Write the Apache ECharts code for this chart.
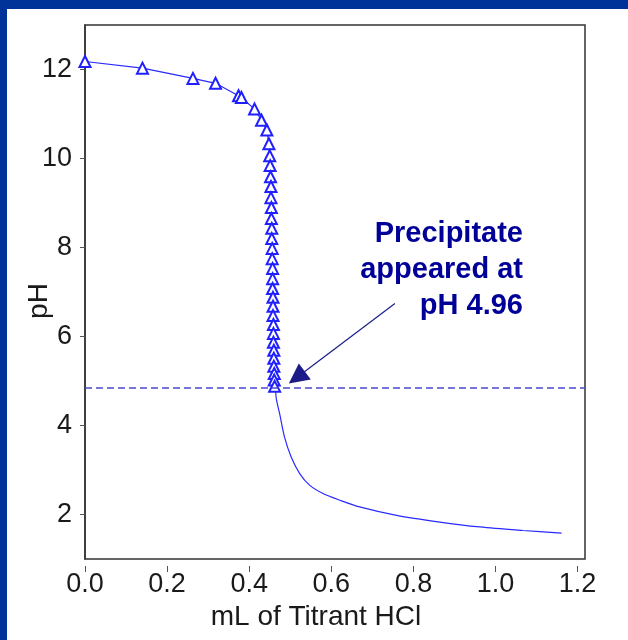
<!DOCTYPE html>
<html>
<head>
<meta charset="utf-8">
<script src="https://cdn.jsdelivr.net/npm/echarts@6/dist/echarts.min.js"></script>
<style>
  html, body { margin: 0; padding: 0; background: #fff; }
  #chart { width: 628px; height: 640px; }
</style>
</head>
<body>
<div id="chart"></div>
<script>
// titration points with triangle markers
var markX = [0, 0.14, 0.263, 0.318, 0.374, 0.381, 0.413, 0.430, 0.443,
  0.448, 0.450, 0.451, 0.452, 0.453, 0.453, 0.454, 0.454, 0.455, 0.455,
  0.456, 0.456, 0.457, 0.457, 0.457, 0.458, 0.458, 0.458, 0.459, 0.459,
  0.459, 0.460, 0.460, 0.460, 0.461, 0.461, 0.462];
var markPH = [12.18, 12.03, 11.80, 11.69, 11.41, 11.37, 11.11, 10.86, 10.64,
  10.33, 10.06, 9.84, 9.59, 9.37, 9.12, 8.90, 8.65, 8.43, 8.20,
  7.98, 7.75, 7.53, 7.30, 7.08, 6.88, 6.68, 6.47, 6.27, 6.07,
  5.87, 5.69, 5.51, 5.33, 5.17, 5.02, 4.88];

// curve after the precipitate (no markers)
var tailX = [0.462, 0.464, 0.466, 0.474, 0.486, 0.502, 0.523, 0.547, 0.580,
  0.621, 0.669, 0.759, 0.864, 0.962, 1.067, 1.161];
var tailPH = [4.88, 4.80, 4.60, 4.27, 3.74, 3.30, 2.92, 2.66, 2.47,
  2.32, 2.17, 1.98, 1.83, 1.72, 1.64, 1.58];

var xTicks = [0, 0.2, 0.4, 0.6, 0.8, 1.0, 1.2];
var yTicks = [2, 4, 6, 8, 10, 12];

var precipPH = 4.85;
var arrowFrom = [0.755, 6.74];
var arrowTo = [0.516, 5.08];

function pairs(xs, ys) {
  var out = [];
  for (var i = 0; i < xs.length; i++) {
    out.push([xs[i], ys[i]]);
  }
  return out;
}

var chart = echarts.init(document.getElementById('chart'), null, { renderer: 'canvas' });

var option = {
  backgroundColor: '#fff',
  animation: false,
  textStyle: { fontFamily: 'Liberation Sans' },
  grid: {
    show: true,
    left: 85, right: 43, top: 25, bottom: 81,
    borderColor: '#333',
    borderWidth: 1.5,
    backgroundColor: '#fff'
  },
  xAxis: {
    type: 'value',
    min: 0, max: 1.218,
    offset: 7,
    name: 'mL of Titrant HCl',
    nameLocation: 'middle',
    nameGap: 37,
    nameMoveOverlap: false,
    nameTextStyle: { fontSize: 28, color: '#1a1a1a', padding: [0, 38, 0, 0] },
    axisLine: { show: false },
    axisTick: { show: true, length: 6, customValues: xTicks, lineStyle: { color: '#555' } },
    axisLabel: {
      customValues: xTicks,
      margin: 5,
      fontSize: 27,
      color: '#1a1a1a',
      formatter: function (v) { return v.toFixed(1); }
    },
    splitLine: { show: false }
  },
  yAxis: {
    type: 'value',
    min: 1, max: 13,
    name: 'pH',
    nameLocation: 'middle',
    nameGap: 32,
    nameMoveOverlap: false,
    nameTextStyle: { fontSize: 28, color: '#1a1a1a', padding: [0, 18, 0, 0] },
    axisLine: { show: true, lineStyle: { color: '#333', width: 1.5 } },
    axisTick: { show: true, length: 5, customValues: yTicks, lineStyle: { color: '#555' } },
    axisLabel: {
      customValues: yTicks,
      margin: 13,
      fontSize: 27,
      color: '#1a1a1a'
    },
    splitLine: { show: false }
  },
  series: [
    {
      name: 'marked',
      type: 'line',
      data: pairs(markX, markPH),
      symbol: 'emptyTriangle',
      symbolSize: 11,
      showAllSymbol: true,
      itemStyle: { color: '#2020ff', borderWidth: 1 },
      lineStyle: { color: '#2a2aff', width: 1.2 },
      markLine: {
        silent: true,
        symbol: 'none',
        label: { show: false },
        lineStyle: { color: '#4a4acc', width: 1.5, type: [7, 4] },
        data: [{ yAxis: precipPH }]
      },
      z: 3
    },
    {
      name: 'tail',
      type: 'line',
      data: pairs(tailX, tailPH),
      symbol: 'none',
      smooth: 0.3,
      lineStyle: { color: '#2a2aff', width: 1.2 },
      markLine: {
        silent: true,
        symbol: ['none', 'triangle'],
        symbolSize: 20,
        label: { show: false },
        lineStyle: { color: '#1c1c88', width: 1.2, type: 'solid' },
        data: [[{ coord: arrowFrom, symbol: 'none' }, { coord: arrowTo, symbol: 'triangle', symbolSize: 20 }]]
      }
    }
  ],
  graphic: [
    { type: 'rect', shape: { x: 0, y: 0, width: 628, height: 9 }, style: { fill: '#003399' }, z: 100 },
    { type: 'rect', shape: { x: 0, y: 0, width: 7, height: 640 }, style: { fill: '#003399' }, z: 100 },
    {
      type: 'text',
      x: 523, y: 216,
      z: 100,
      style: {
        text: 'Precipitate\nappeared at\npH 4.96',
        font: 'bold 29px "Liberation Sans"',
        fill: '#000099',
        align: 'right',
        verticalAlign: 'top',
        lineHeight: 36
      }
    }
  ]
};

chart.setOption(option);
</script>
</body>
</html>
